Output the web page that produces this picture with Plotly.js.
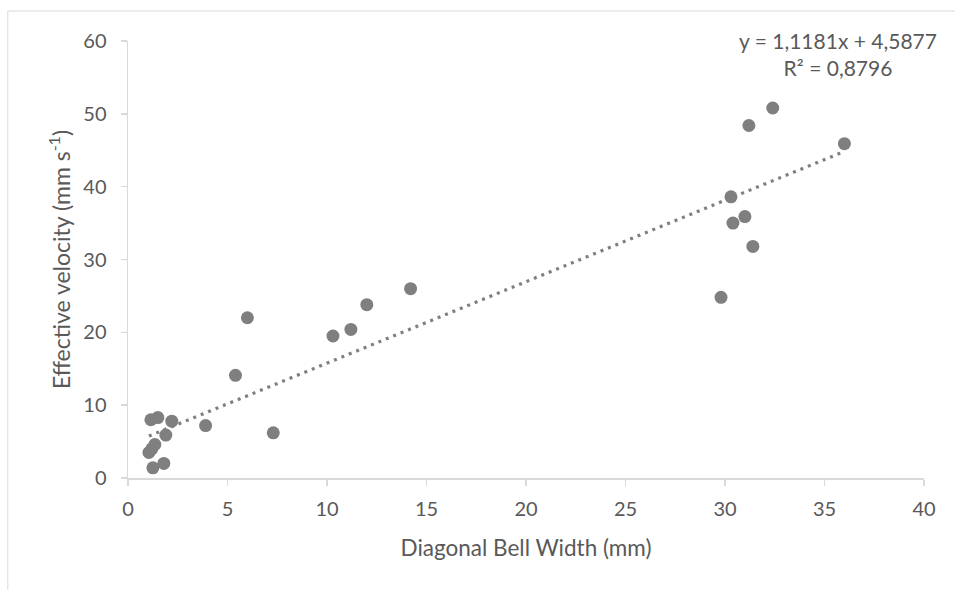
<!DOCTYPE html>
<html>
<head>
<meta charset="utf-8">
<script src="https://cdn.plot.ly/plotly-3.0.1.min.js"></script>
<style>
html,body{margin:0;padding:0;background:#fff;}
#chart{width:955px;height:590px;}
</style>
</head>
<body>
<div id="chart"></div>
<script>
// Data
var bellWidth = [1.15, 1.5, 2.2, 3.9, 7.3, 1.9, 1.05, 1.2, 1.35, 1.25, 1.8, 5.4, 6.0, 10.3, 11.2, 12.0, 14.2, 29.8, 30.3, 30.4, 31.0, 31.4, 31.2, 32.4, 36.0];
var velocity  = [8.0, 8.3, 7.8, 7.2, 6.2, 5.9, 3.5, 4.0, 4.6, 1.4, 2.0, 14.1, 22.0, 19.5, 20.4, 23.8, 26.0, 24.8, 38.6, 35.0, 35.9, 31.8, 48.4, 50.8, 45.9];
var trendSlope = 1.1181;
var trendIntercept = 4.5877;
var trendLabel = "y = 1,1181x + 4,5877<br>R² = 0,8796";
var xTicks = [0, 5, 10, 15, 20, 25, 30, 35, 40];
var yTicks = [0, 10, 20, 30, 40, 50, 60];

var xMin = Math.min.apply(null, bellWidth);
var xMax = Math.max.apply(null, bellWidth);
var trendX = [xMin, xMax];
var trendY = trendX.map(function(v){ return trendSlope * v + trendIntercept; });

var font = "Lato, 'Open Sans', 'Liberation Sans', sans-serif";
var grey = "#595959";

var data = [
  {
    x: trendX, y: trendY, type: "scatter", mode: "lines",
    line: {color: "#7f7f7f", width: 3.2, dash: "3px,5px"},
    hoverinfo: "skip", showlegend: false
  },
  {
    x: bellWidth, y: velocity, type: "scatter", mode: "markers",
    marker: {color: "#7f7f7f", size: 13, line: {width: 0}},
    showlegend: false
  }
];

var layout = {
  width: 955, height: 590,
  margin: {l: 128, r: 31, t: 41, b: 112},
  paper_bgcolor: "#fff", plot_bgcolor: "#fff",
  font: {family: font, color: grey, size: 21},
  showlegend: false,
  xaxis: {
    range: [0, 40], tickvals: xTicks, ticktext: xTicks.map(String),
    showgrid: false, zeroline: false, showline: true,
    linecolor: "#d9d9d9", linewidth: 1.5,
    ticks: "outside", ticklen: 6, tickcolor: "#d9d9d9", tickwidth: 1.5,
    ticklabelstandoff: 6,
    tickfont: {family: font, size: 20, color: grey},
    title: {text: "Diagonal Bell Width (mm)", font: {family: font, size: 22.5, color: grey}, standoff: 21}
  },
  yaxis: {
    range: [0, 60], tickvals: yTicks, ticktext: yTicks.map(String),
    showgrid: false, zeroline: false, showline: true,
    linecolor: "#d9d9d9", linewidth: 1.5,
    ticks: "outside", ticklen: 6, tickcolor: "#d9d9d9", tickwidth: 1.5,
    ticklabelstandoff: 10,
    tickfont: {family: font, size: 20, color: grey},
    title: {text: "Effective velocity (mm s<sup>-1</sup>)", font: {family: font, size: 23, color: grey}, standoff: 6}
  },
  annotations: [
    {
      xref: "paper", yref: "paper", x: 0.892, y: 0.97,
      xanchor: "center", yanchor: "middle", align: "center",
      text: trendLabel, showarrow: false,
      font: {family: font, size: 21, color: grey}
    }
  ],
  shapes: [
    {
      type: "rect", xref: "paper", yref: "paper",
      x0: -0.151, x1: 1.06, y0: -0.3, y1: 1.0686,
      line: {color: "#d9d9d9", width: 1}, fillcolor: "rgba(0,0,0,0)", layer: "below"
    }
  ]
};

Plotly.newPlot("chart", data, layout, {displayModeBar: false, staticPlot: true});
</script>
</body>
</html>
